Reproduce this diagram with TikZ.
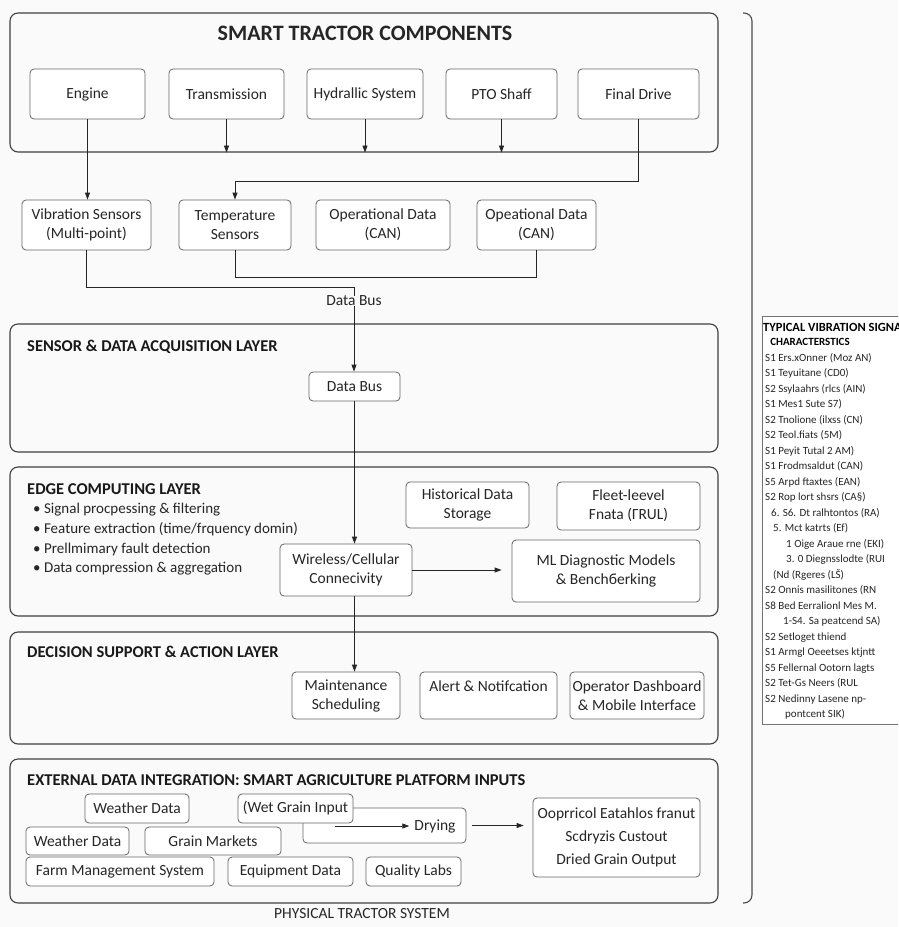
\documentclass[tikz,border=0pt]{standalone}
\usepackage{fontspec}
\setmainfont{Carlito}
\usetikzlibrary{arrows.meta, positioning}
\tikzset{
  layer/.style      = {draw=black!75, line width=1.1pt, rounded corners=8pt,
                       inner sep=0pt},
  unit/.style       = {draw=black!60, line width=0.8pt, rounded corners=4pt,
                       fill=white, inner sep=0pt, align=center, text=black!85,
                       font=\fontsize{15.5}{19}\selectfont},
  size/.style 2 args = {minimum width=#1pt, minimum height=#2pt},
  layertitle/.style = {anchor=west, inner sep=0pt, text=black!90,
                       font=\fontsize{16.5}{20}\selectfont\bfseries},
  plain/.style      = {inner sep=0pt, text=black!85,
                       font=\fontsize{15.5}{19}\selectfont},
  flow/.style       = {-{Triangle[length=7pt,width=5pt]}, line width=0.8pt,
                       draw=black!85},
  link/.style       = {-, line width=0.8pt, draw=black!85},
}

\begin{document}
\begin{tikzpicture}[x=1pt, y=-1pt]
  \fill[black!2] (0,0) rectangle (898,927);
  \useasboundingbox (0,0) rectangle (898,927);

  \node[layer, size={708}{139}] (top) at (364,82.5) {};
  \node[plain, font=\fontsize{22}{26}\selectfont\bfseries] (ttl) at (365,33) {SMART TRACTOR COMPONENTS};
  \node[unit, size={115}{50}] (eng) at (87.5,94)  {Engine};
  \node[unit, size={115}{50}] (trn) at (226.5,94) {Transmission};
  \node[unit, size={116}{50}] (hyd) at (365,94)   {Hydrallic System};
  \node[unit, size={111}{50}] (pto) at (501.5,94) {PTO Shaff};
  \node[unit, size={121}{50}] (fdr) at (638.5,94) {Final Drive};

  \node[unit, size={129}{50}] (vib) at (86.5,225)  {Vibration Sensors\\(Multi-point)};
  \node[unit, size={112}{50}] (tmp) at (235,225)   {Temperature\\Sensors};
  \node[unit, size={134}{50}] (op1) at (383,225)   {Operational Data\\(CAN)};
  \node[unit, size={119}{50}] (op2) at (536.5,225) {Opeational Data\\(CAN)};
  \node[plain] (dbl) at (354,301) {Data Bus};

  \draw[flow] (eng.south) -- (eng.south |- vib.north);
  \foreach \n in {trn, hyd, pto}
    \draw[flow] (\n.south) -- (\n.south |- top.south);
  \draw[flow] (fdr.south) -- ++(0,62) -| (tmp.north);
  \draw[link] (tmp.south) -- ++(0,27) -| (op2.south);
  \draw[link] (vib.south) -- ++(0,37) -| (dbl.north);

  \node[layer, size={708}{128}] (sen) at (364,388) {};
  \node[layertitle] (sent) at (27,347) {SENSOR \& DATA ACQUISITION LAYER};
  \node[unit, size={91}{29}] (bus) at (354.5,386.5) {Data Bus};
  \draw[flow] (dbl.south) -- (dbl.south |- bus.north);

  \node[layer, size={708}{149}] (edg) at (364,541.5) {};
  \node[layertitle] (edgt) at (27,489) {EDGE COMPUTING LAYER};
  \node[plain, anchor=north west, align=left, font=\fontsize{15}{19.7}\selectfont] (ops) at (33,503)
    {\textbullet\ Signal procpessing \& filtering\\
     \textbullet\ Feature extraction (time/frquency domin)\\
     \textbullet\ Prellmimary fault detection\\
     \textbullet\ Data compression \& aggregation};
  \node[unit, size={123}{46}] (his) at (467.5,505) {Historical Data\\Storage};
  \node[unit, size={143}{48}] (flt) at (628.5,506) {Fleet-leevel\\Fnata (ΓRUL)};
  \node[unit, size={132}{52}] (wls) at (346,570)   {Wireless/Cellular\\Connecivity};
  \node[unit, size={188}{62}] (ml)  at (606,571)   {ML Diagnostic Models\\\& Benchбerking};
  \draw[flow] (bus.south) -- (bus.south |- wls.north);
  \draw[flow, shorten >=10pt] (wls.east) -- (wls.east -| ml.west);

  \node[layer, size={708}{112}] (dec) at (364,688) {};
  \node[layertitle] (dect) at (27,652) {DECISION SUPPORT \& ACTION LAYER};
  \node[unit, size={108}{47}] (mnt) at (346,695.5) {Maintenance\\Scheduling};
  \node[unit, size={137}{47}] (alr) at (488.5,695.5) {Alert \& Notifcation\\~};
  \node[unit, size={134}{47}] (opd) at (637,695.5) {Operator Dashboard\\\& Mobile Interface};
  \draw[flow] (wls.south -| bus.south) -- (bus.south |- mnt.north);

  \node[layer, size={708}{144}] (ext) at (364,831) {};
  \node[layertitle] (extt) at (27,780) {EXTERNAL DATA INTEGRATION: SMART AGRICULTURE PLATFORM INPUTS};
  \node[unit, size={163}{35}] (dry) at (384.5,825.5) {};
  \node[plain] (drylbl) at (435,826) {Drying};
  \node[unit, size={104}{29}] (wd1) at (137,808.5)   {Weather Data};
  \node[unit, size={115}{29}] (wgi) at (295.5,808.5) {(Wet Grain Input};
  \node[unit, size={103}{28}] (wd2) at (77.5,841)    {Weather Data};
  \node[unit, size={136}{28}] (gmk) at (213,841)     {Grain Markets};
  \node[unit, size={188}{29}] (fms) at (120,871.5)   {Farm Management System};
  \node[unit, size={125}{29}] (eqd) at (290.5,871.5) {Equipment Data};
  \node[unit, size={95}{29}]  (qlb) at (413.5,871.5) {Quality Labs};
  \node[unit, size={167}{79}, font=\fontsize{15.5}{23}\selectfont] (out) at (616.5,837.5)
    {Ooprricol Eatahlos franut\\Scdryzis Custout\\Dried Grain Output};
  \coordinate (feed) at (335,826);
  \draw[flow, shorten >=5pt] (feed) -- (drylbl.west);
  \draw[flow, shorten <=6pt, shorten >=9pt] (dry.east) -- (dry.east -| out.west);
  \node[plain] (phys) at (362,914) {PHYSICAL TRACTOR SYSTEM};

  \draw[black!70, line width=1.1pt, rounded corners=8pt] (743,13) -| (752,903) -- (743,903);

  \begin{scope}
    \clip (0,0) rectangle (898,927);
    \draw[black!55, line width=0.9pt, fill=white] (762,316) rectangle (930,724);
    \node[anchor=west, inner sep=0pt, font=\fontsize{12.5}{15}\selectfont\bfseries] (vh1) at (763,327) {TYPICAL VIBRATION SIGNAL};
    \node[inner sep=0pt, font=\fontsize{11}{14}\selectfont\bfseries] (vh2) at (810,342) {CHARACTERSTICS};
    \node[anchor=north west, inner sep=0pt, align=left, text=black!85, font=\fontsize{11}{15.5}\selectfont] (vlist) at (765,353)
      {S1 Ers.xOnner (Moz AN)\\
       S1 Teyuitane (CD0)\\
       S2 Ssylaahrs (rlcs (AIN)\\
       S1 Mes1 Sute S7)\\
       S2 Tnolione (ilxss (CN)\\
       S2 Teol.fiats (5M)\\
       S1 Peyit Tutal 2 AM)\\
       S1 Frodmsaldut (CAN)\\
       S5 Arpd ftaxtes (EAN)\\
       S2 Rop lort shsrs (CA§)\\
       \hspace*{6pt}6. S6. Dt ralhtontos (RA)\\
       \hspace*{8pt}5. Mct katrts (Ef)\\
       \hspace*{21pt}1 Oige Araue rne (EKI)\\
       \hspace*{21pt}3. 0 Diegnsslodte (RUI\\
       \hspace*{8pt}(Nd (Rgeres (LŠ)\\
       S2 Onnis masilitones (RN\\
       S8 Bed Eerralionl Mes M.\\
       \hspace*{18pt}1-S4. Sa peatcend SA)\\
       S2 Setloget thiend\\
       S1 Armgl Oeeetses ktjntt\\
       S5 Fellernal Ootorn lagts\\
       S2 Tet-Gs Neers (RUL\\
       S2 Nedinny Lasene np-\\
       \hspace*{20pt}pontcent SIK)};
  \end{scope}
\end{tikzpicture}
\end{document}
